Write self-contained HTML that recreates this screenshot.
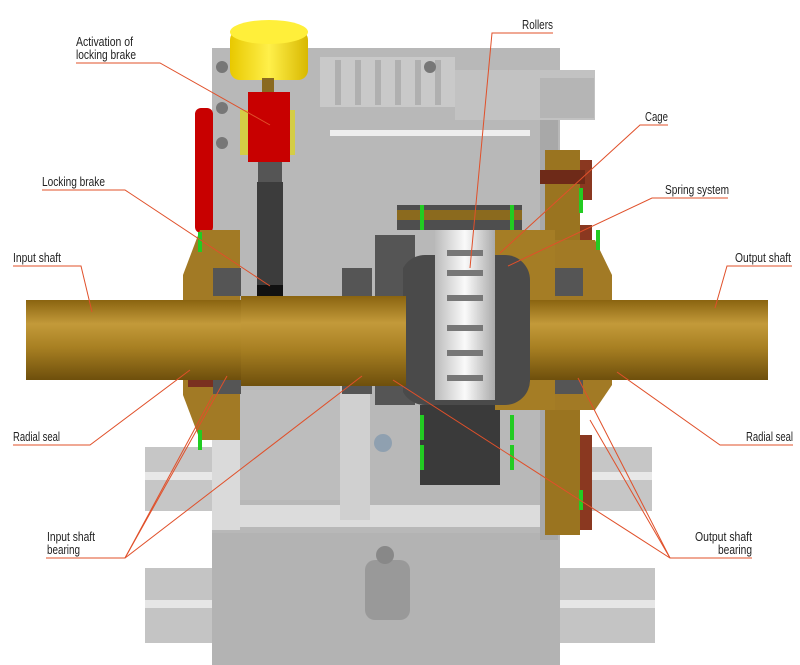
<!DOCTYPE html>
<html><head><meta charset="utf-8"><style>
html,body{margin:0;padding:0;background:#fff}
svg{display:block}
text{font-family:"Liberation Sans Narrow","Liberation Sans",sans-serif;font-size:13px;fill:#222}
</style></head><body>
<svg width="800" height="665" viewBox="0 0 800 665" xmlns="http://www.w3.org/2000/svg">
<defs>
<linearGradient id="br" x1="0" y1="0" x2="0" y2="1">
<stop offset="0" stop-color="#8a6410"/><stop offset="0.3" stop-color="#c39a3a"/><stop offset="0.6" stop-color="#a77f22"/><stop offset="1" stop-color="#6e4f0c"/></linearGradient>
<linearGradient id="rl" x1="0" y1="0" x2="1" y2="0">
<stop offset="0" stop-color="#bbb"/><stop offset="0.5" stop-color="#fafafa"/><stop offset="1" stop-color="#aaa"/></linearGradient>
<linearGradient id="yl" x1="0" y1="0" x2="1" y2="0">
<stop offset="0" stop-color="#e8c800"/><stop offset="0.5" stop-color="#fff04a"/><stop offset="1" stop-color="#d8b800"/></linearGradient>
</defs>
<rect x="145" y="568" width="510" height="75" fill="#c4c4c4"/>
<rect x="145" y="600" width="510" height="8" fill="#e6e6e6"/>
<rect x="212" y="525" width="348" height="140" fill="#b3b3b3"/>
<rect x="145" y="447" width="70" height="64" fill="#c6c6c6"/>
<rect x="145" y="472" width="70" height="8" fill="#e8e8e8"/>
<rect x="558" y="447" width="94" height="64" fill="#c6c6c6"/>
<rect x="558" y="472" width="94" height="8" fill="#e8e8e8"/>
<rect x="212" y="48" width="348" height="485" fill="#b8b8b8"/>
<rect x="212" y="505" width="348" height="22" fill="#dcdcdc"/>
<rect x="212" y="380" width="28" height="150" fill="#dadada"/>
<rect x="240" y="390" width="100" height="110" fill="#bdbdbd"/>
<rect x="340" y="380" width="30" height="140" fill="#d0d0d0"/>
<rect x="320" y="57" width="135" height="50" fill="#c9c9c9"/>
<g fill="#b0b0b0"><rect x="335" y="60" width="6" height="45"/><rect x="355" y="60" width="6" height="45"/><rect x="375" y="60" width="6" height="45"/><rect x="395" y="60" width="6" height="45"/><rect x="415" y="60" width="6" height="45"/><rect x="435" y="60" width="6" height="45"/></g>
<rect x="455" y="70" width="140" height="50" fill="#c2c2c2"/>
<rect x="540" y="78" width="54" height="40" fill="#b5b5b5"/>
<rect x="330" y="130" width="200" height="6" fill="#eee"/>
<rect x="540" y="120" width="18" height="420" fill="#a8a8a8"/>
<circle cx="222" cy="67" r="6" fill="#777"/><circle cx="222" cy="108" r="6" fill="#777"/><circle cx="222" cy="143" r="6" fill="#777"/><circle cx="430" cy="67" r="6" fill="#777"/>
<rect x="195" y="108" width="18" height="125" rx="6" fill="#c80000"/>
<rect x="230" y="30" width="78" height="50" rx="10" fill="url(#yl)"/>
<ellipse cx="269" cy="32" rx="39" ry="12" fill="#ffef3a"/>
<rect x="262" y="78" width="12" height="20" fill="#8a6a20"/>
<rect x="240" y="110" width="55" height="45" fill="#d8d030" opacity="0.85"/>
<rect x="248" y="92" width="42" height="70" fill="#c80000"/>
<rect x="258" y="162" width="24" height="20" fill="#555"/>
<rect x="257" y="182" width="26" height="125" fill="#3c3c3c"/>
<rect x="257" y="285" width="26" height="20" fill="#111"/>
<rect x="545" y="150" width="35" height="385" fill="#9a7420"/>
<rect x="580" y="160" width="12" height="40" fill="#8a3820"/>
<rect x="580" y="225" width="12" height="25" fill="#8a3820"/>
<rect x="580" y="435" width="12" height="95" fill="#8a3820"/>
<rect x="540" y="170" width="45" height="14" fill="#6e2a18"/>
<polygon points="540,240 595,240 612,275 612,385 595,410 540,410" fill="#a27a25"/>
<polygon points="200,230 240,230 240,440 200,440 183,395 183,275" fill="#a27a25"/>
<rect x="188" y="380" width="30" height="7" fill="#7a3020"/>
<rect x="397" y="205" width="125" height="25" fill="#4e4e4e"/>
<rect x="397" y="210" width="125" height="10" fill="#8b6a1e"/>
<rect x="375" y="235" width="40" height="170" fill="#555"/>
<rect x="420" y="405" width="80" height="80" fill="#3a3a3a"/>
<rect x="495" y="230" width="60" height="180" fill="#a57d25"/>
<rect x="400" y="255" width="130" height="150" rx="25" fill="#4a4a4a"/>
<rect x="435" y="230" width="60" height="170" fill="url(#rl)"/>
<g fill="#777"><rect x="447" y="250" width="36" height="6"/><rect x="447" y="270" width="36" height="6"/><rect x="447" y="295" width="36" height="6"/><rect x="447" y="325" width="36" height="6"/><rect x="447" y="350" width="36" height="6"/><rect x="447" y="375" width="36" height="6"/></g>
<circle cx="383" cy="443" r="9" fill="#8fa0b0"/>
<g fill="#555"><rect x="213" y="268" width="28" height="28"/><rect x="213" y="366" width="28" height="28"/><rect x="342" y="268" width="30" height="28"/><rect x="342" y="366" width="30" height="28"/><rect x="375" y="268" width="28" height="28"/><rect x="375" y="366" width="28" height="28"/><rect x="555" y="268" width="28" height="28"/><rect x="555" y="366" width="28" height="28"/></g>
<rect x="26" y="300" width="215" height="80" fill="url(#br)"/>
<rect x="241" y="296" width="165" height="90" fill="url(#br)"/>
<rect x="530" y="300" width="238" height="80" fill="url(#br)"/>
<g fill="#22cc22"><rect x="198" y="232" width="4" height="20"/><rect x="198" y="430" width="4" height="20"/><rect x="420" y="205" width="4" height="25"/><rect x="510" y="205" width="4" height="25"/><rect x="420" y="415" width="4" height="25"/><rect x="420" y="445" width="4" height="25"/><rect x="510" y="415" width="4" height="25"/><rect x="510" y="445" width="4" height="25"/><rect x="579" y="188" width="4" height="25"/><rect x="596" y="230" width="4" height="20"/><rect x="579" y="490" width="4" height="20"/></g>
<rect x="365" y="560" width="45" height="60" rx="10" fill="#999"/>
<circle cx="385" cy="555" r="9" fill="#888"/>
<g stroke="#e0502a" stroke-width="1" fill="none">
<polyline points="76,63 160,63 270,125"/>
<polyline points="553,33 492,33 470,268"/>
<polyline points="668,125 640,125 500,253"/>
<polyline points="42,190 125,190 270,286"/>
<polyline points="728,198 652,198 508,266"/>
<polyline points="13,266 81,266 92,312"/>
<polyline points="792,266 727,266 715,308"/>
<polyline points="13,445 90,445 190,370"/>
<polyline points="793,445 720,445 617,372"/>
<polyline points="46,558 125,558 227,376"/>
<polyline points="125,558 213,395"/>
<polyline points="125,558 362,376"/>
<polyline points="752,558 670,558 393,380"/>
<polyline points="670,558 578,378"/>
<polyline points="670,558 590,420"/>
</g>
<g lengthAdjust="spacingAndGlyphs">
<text x="76" y="46" textLength="57" lengthAdjust="spacingAndGlyphs">Activation of</text>
<text x="76" y="59" textLength="60" lengthAdjust="spacingAndGlyphs">locking brake</text>
<text x="522" y="29" textLength="31" lengthAdjust="spacingAndGlyphs">Rollers</text>
<text x="645" y="121" textLength="23" lengthAdjust="spacingAndGlyphs">Cage</text>
<text x="42" y="186" textLength="63" lengthAdjust="spacingAndGlyphs">Locking brake</text>
<text x="665" y="194" textLength="64" lengthAdjust="spacingAndGlyphs">Spring system</text>
<text x="13" y="262" textLength="48" lengthAdjust="spacingAndGlyphs">Input shaft</text>
<text x="735" y="262" textLength="56" lengthAdjust="spacingAndGlyphs">Output shaft</text>
<text x="13" y="441" textLength="47" lengthAdjust="spacingAndGlyphs">Radial seal</text>
<text x="746" y="441" textLength="47" lengthAdjust="spacingAndGlyphs">Radial seal</text>
<text x="47" y="541" textLength="48" lengthAdjust="spacingAndGlyphs">Input shaft</text>
<text x="47" y="554" textLength="33" lengthAdjust="spacingAndGlyphs">bearing</text>
<text x="695" y="541" textLength="57" lengthAdjust="spacingAndGlyphs">Output shaft</text>
<text x="718" y="554" textLength="34" lengthAdjust="spacingAndGlyphs">bearing</text>
</g>
</svg>
</body></html>
